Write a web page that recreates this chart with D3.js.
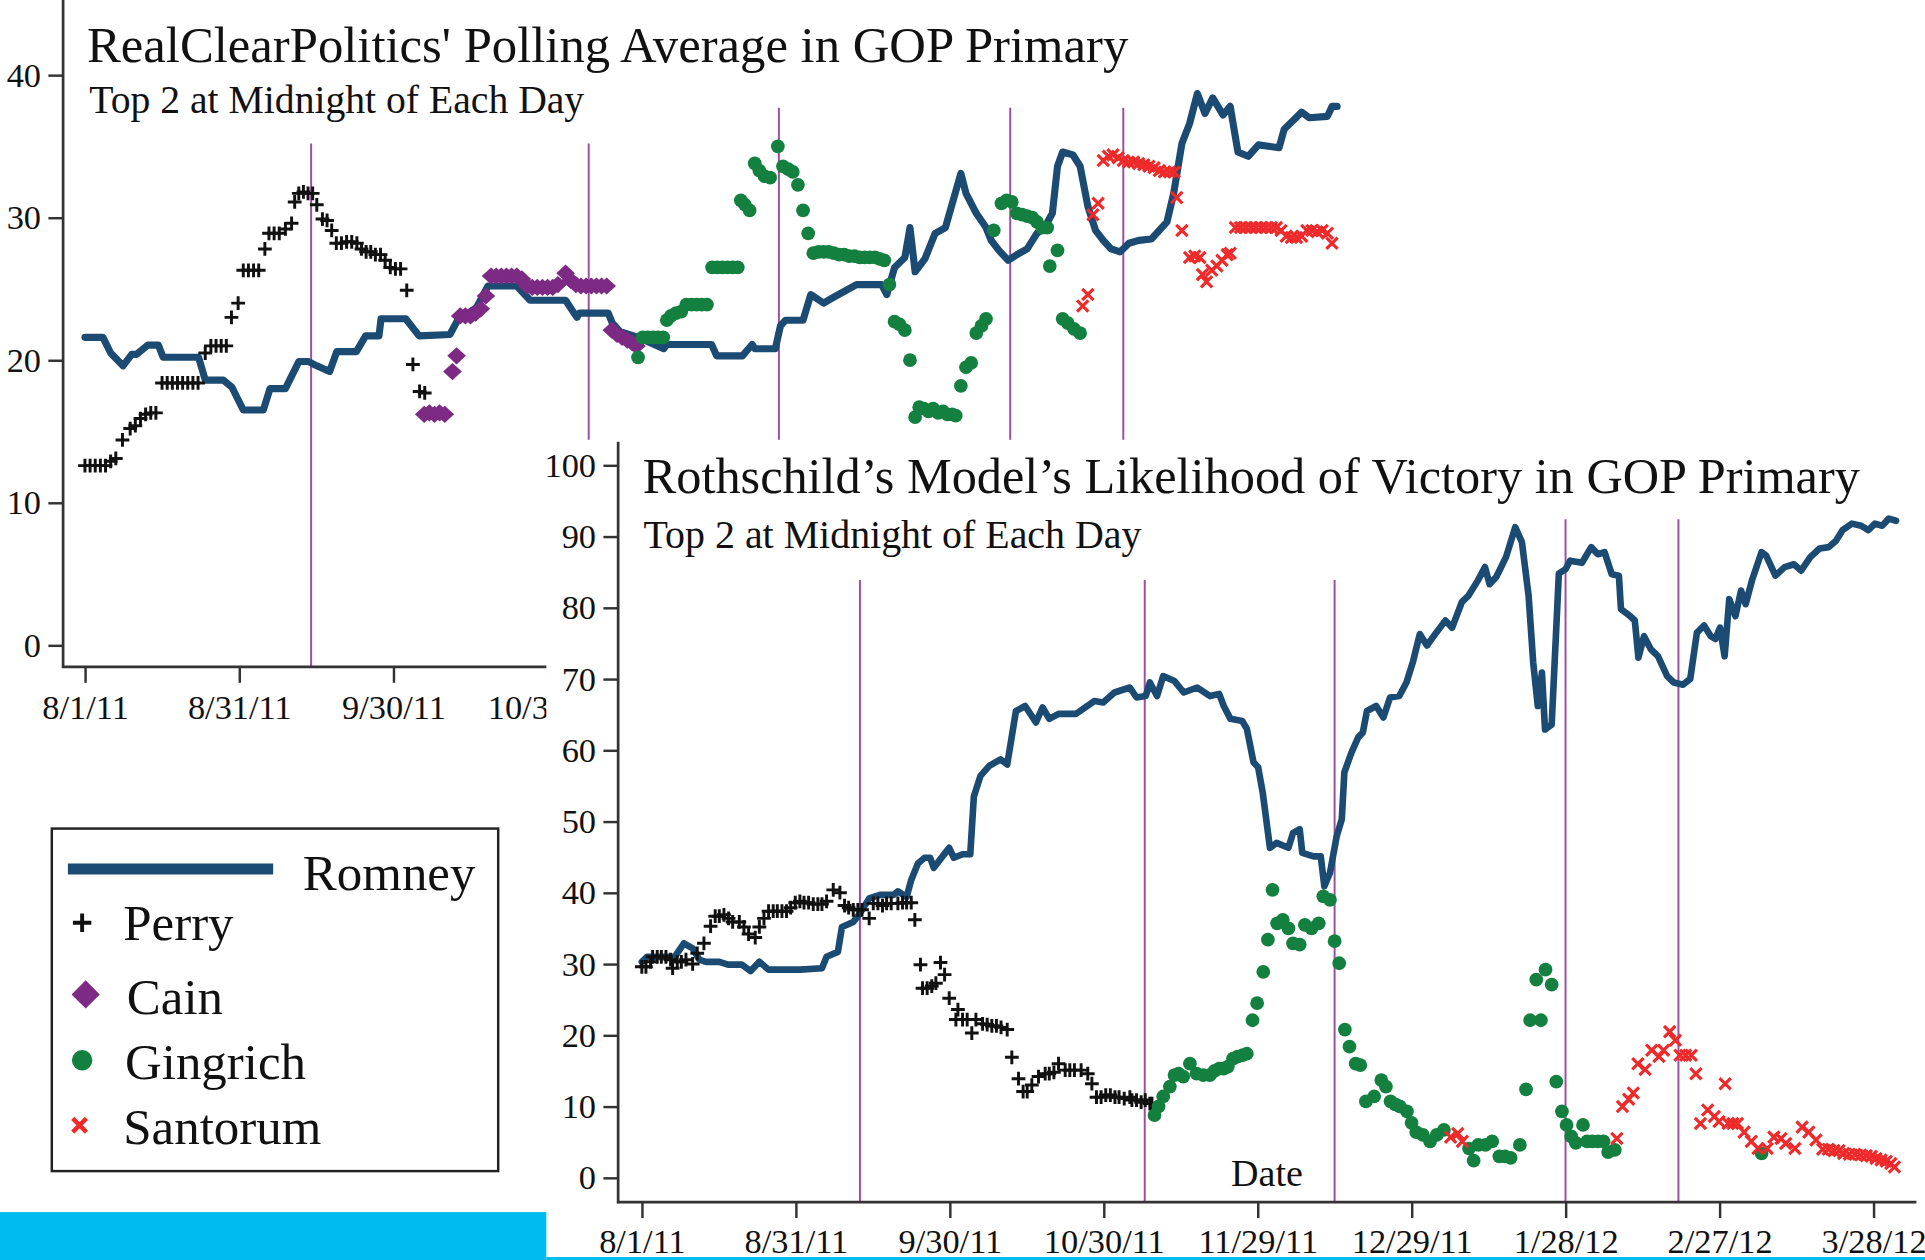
<!DOCTYPE html>
<html><head><meta charset="utf-8">
<script src="https://cdn.jsdelivr.net/npm/d3@7"></script>
<style>html,body{margin:0;padding:0;background:#fff;overflow:hidden}svg{display:block}</style>
</head><body>
<script>
// ---------------- DATA (day offsets from 8/1/11, values in %) ----------------
const xTickDays = [0,30,60,90,120,150,180,210,240];
const xTickLabels = ["8/1/11","8/31/11","9/30/11","10/30/11","11/29/11","12/29/11","1/28/12","2/27/12","3/28/12"];
const topYTicks = [0,10,20,30,40];
const botYTicks = [0,10,20,30,40,50,60,70,80,90,100];
const topEventDays = [44,98,135,180,202];
const topEventTops = [35.2,35.2,37.7,37.7,37.7];
const botEventDays = [42.5,98,135,180,202];
const botEventTops = [83.9,83.9,83.9,92.4,92.4];
const legendNames = ["Romney","Perry","Cain","Gingrich","Santorum"];
const topTitle = "RealClearPolitics' Polling Average in GOP Primary";
const botTitle = "Rothschild\u2019s Model\u2019s Likelihood of Victory in GOP Primary";
const subTitle = "Top 2 at Midnight of Each Day";

// RealClearPolitics polling average
const rcpRomney = [[0,21.6],[3.5,21.6],[5,20.5],[7.4,19.6],[9.1,20.4],[10,20.4],[12.2,21.05],[14.3,21.05],[15.2,20.2],[22.1,20.2],[23.4,18.6],[26.9,18.6],[28.6,18.1],[30.8,16.5],[34.7,16.5],[36,18.0],[39,18.0],[41.6,19.9],[43.5,19.9],[45.1,19.6],[47.6,19.2],[49,20.6],[52.8,20.6],[54.6,21.7],[57.2,21.7],[57.6,22.9],[62.4,22.9],[65,21.7],[71,21.8],[72.8,23.0],[75,23.4],[76.2,23.7],[78.4,25.2],[84,25.2],[86.6,24.2],[93.5,24.2],[95.7,23.0],[96.2,23.3],[101.8,23.3],[102.6,22.6],[104.1,22.0],[107.6,21.6],[112.6,20.8],[113.2,21.1],[121.9,21.1],[122.9,20.3],[127.9,20.3],[129.8,21.1],[130.3,20.8],[134.3,20.8],[135.3,22.4],[136.3,22.8],[139.7,22.8],[141.2,24.6],[143.7,24.0],[145.6,24.4],[150.1,25.3],[155,25.3],[156,24.6],[157.5,26.5],[159.5,27.2],[160.5,29.3],[161.5,26.2],[163.4,27.1],[165.4,28.9],[167.4,29.3],[170.4,33.1],[171.4,31.7],[173.4,30.3],[175.3,29.3],[176.3,28.4],[177.8,27.7],[179.6,27.0],[181.3,27.4],[183.3,27.8],[185.2,28.9],[186.7,29.3],[188.2,30.3],[189.2,33.6],[190.2,34.6],[192.2,34.4],[193.6,33.6],[195.1,30.8],[196.6,29.1],[198.1,28.4],[199.6,27.8],[201.4,27.6],[203.1,28.2],[205,28.4],[207.5,28.5],[209,29.1],[210.5,29.7],[211.8,31.7],[213.4,35.2],[214.9,36.6],[216.4,38.7],[217.9,37.3],[219.4,38.4],[221.4,37.2],[222.8,37.8],[224.3,34.6],[226.3,34.3],[228.3,35.1],[232.3,34.9],[233.3,36.2],[236.7,37.4],[238.2,37.0],[241.7,37.1],[242.6,37.8],[243.6,37.8]];
const rcpPerry = [[0,12.6],[1,12.6],[2,12.6],[3,12.6],[4,12.6],[5,12.9],[6,13.1],[7.3,14.4],[8.8,15.2],[9.8,15.4],[10.8,15.9],[11.8,16.2],[12.8,16.3],[13.8,16.3],[15,18.4],[16,18.4],[17,18.4],[18,18.4],[19,18.4],[20,18.4],[21,18.4],[22,18.4],[23.4,20.5],[24.5,21.0],[25.5,21.0],[26.5,21.0],[27.5,21.0],[28.5,23.0],[29.8,24.0],[30.8,26.3],[31.8,26.3],[32.8,26.3],[33.8,26.3],[35,27.8],[35.8,28.9],[36.8,28.9],[37.8,28.9],[39,29.2],[40.2,29.6],[40.8,31.1],[41.6,31.7],[42.5,31.8],[43.4,31.7],[44.3,31.7],[45.1,30.9],[46.2,29.9],[47.1,29.8],[48,29.1],[48.9,28.2],[49.9,28.2],[50.9,28.3],[51.9,28.3],[52.9,28.2],[53.8,27.8],[54.7,27.6],[55.6,27.6],[56.5,27.4],[57.5,27.4],[58.4,27.0],[59.4,26.5],[60.4,26.4],[61.4,26.4],[62.6,24.9],[63.8,19.7],[65.1,17.8],[66.1,17.7]];
const rcpCain = [[66,16.2],[67,16.3],[68,16.2],[69,16.3],[70,16.2],[71.5,19.2],[72.3,20.3],[73,23.1],[74,23.1],[75,23.1],[76,23.3],[77,23.6],[78,24.5],[79,25.9],[80,25.9],[81,25.9],[82,25.9],[83,25.9],[84,25.9],[85,25.7],[86,25.2],[87,25.1],[88,25.1],[89,25.1],[90,25.1],[91,25.1],[92,25.3],[93.5,26.1],[94.5,25.6],[95.5,25.3],[96.5,25.2],[97.5,25.2],[98.5,25.2],[99.5,25.2],[100.5,25.2],[101.5,25.2],[102.5,22.1],[103.5,21.8],[104.5,21.6],[105.5,21.4],[106.5,21.2],[107.3,21.0]];
const rcpGingrich = [[107.6,20.2],[108.5,21.6],[109.5,21.6],[110.5,21.6],[111.5,21.6],[112.5,21.6],[113.2,22.8],[114,23.1],[115,23.3],[116,23.4],[117,23.9],[118,23.9],[119,23.9],[120,23.9],[121,23.9],[122,26.5],[123,26.5],[124,26.5],[125,26.5],[126,26.5],[127,26.5],[127.6,31.2],[128.4,30.9],[129.3,30.5],[130.3,33.8],[131.2,33.3],[132.2,32.9],[133.3,32.8],[134.8,35.0],[135.8,33.6],[136.8,33.4],[137.7,33.2],[138.7,32.3],[139.7,30.5],[140.7,28.9],[141.7,27.5],[142.7,27.6],[143.7,27.6],[144.7,27.6],[145.7,27.5],[146.7,27.4],[147.7,27.4],[148.7,27.3],[149.7,27.3],[150.7,27.2],[151.7,27.2],[152.7,27.2],[153.7,27.2],[154.6,27.1],[155.5,27.0],[156.5,25.3],[157.5,22.7],[158.5,22.5],[159.5,22.1],[160.5,20.0],[161.5,16.0],[162.3,16.7],[163.2,16.6],[164.1,16.4],[165,16.6],[166,16.3],[166.9,16.4],[167.8,16.2],[168.7,16.2],[169.4,16.1],[170.4,18.2],[171.4,19.5],[172.4,19.8],[173.4,21.9],[174.4,22.4],[175.3,22.9],[176.8,29.1],[178.3,31.0],[179.3,31.2],[180.3,31.1],[181.3,30.3],[182.3,30.2],[183.3,30.1],[184.3,30.0],[185.2,29.7],[186.2,29.3],[187.2,29.3],[187.7,26.6],[189.2,27.7],[190.2,22.9],[191.2,22.6],[192.4,22.2],[193.6,21.9]];
const rcpSantorum = [[194.1,23.8],[195.1,24.6],[196.1,30.2],[197.1,31.0],[198.1,34.0],[199.1,34.3],[200,34.4],[201,34.2],[202,34.0],[203,33.9],[204,33.9],[205,33.8],[206,33.7],[207,33.6],[208,33.5],[209,33.3],[210,33.2],[211,33.2],[211.9,33.2],[212.4,31.4],[213.4,29.1],[214.9,27.2],[215.9,27.3],[216.9,27.2],[217.4,26.0],[218.2,25.5],[219.2,26.3],[220.2,26.6],[221.2,27.0],[222.2,27.4],[222.8,27.5],[223.8,29.3],[224.8,29.3],[225.8,29.3],[226.8,29.3],[227.8,29.3],[228.8,29.3],[229.8,29.3],[230.8,29.3],[231.8,29.3],[232.7,29.1],[233.7,28.7],[234.7,28.6],[235.7,28.6],[236.7,28.7],[237.7,29.1],[238.7,29.1],[239.7,29.0],[240.7,29.1],[241.7,28.9],[242.6,28.2]];

// Rothschild model likelihood of victory
const modRomney = [[0,30.3],[1,31.0],[6.4,31.0],[8.2,32.9],[9.9,32.2],[11.2,30.6],[12.5,30.3],[15.1,30.3],[16.8,29.9],[19.5,29.9],[21.2,29.0],[22.9,30.3],[24.7,29.2],[29,29.2],[30.8,29.2],[35.1,29.4],[36,31.0],[38.2,31.7],[39,35.2],[41.2,35.9],[42.5,37.1],[44.3,39.2],[46.4,39.7],[49.1,39.7],[49.9,40.2],[51.6,39.4],[52.5,41.8],[53.8,44.1],[55.1,44.9],[56.2,44.9],[56.9,43.5],[58.6,45.1],[59.9,46.3],[60.8,44.9],[62.5,45.4],[64,45.4],[64.7,53.5],[66,56.4],[67.7,57.8],[69.9,58.7],[71.2,58.0],[72.9,65.5],[74.7,66.2],[76.8,63.9],[78.1,66.0],[79.4,64.4],[81.2,65.1],[84.6,65.1],[88.2,66.9],[89.9,66.7],[92.1,68.1],[95.1,68.8],[96.4,67.4],[98.2,67.6],[99,69.5],[100.4,67.6],[101.6,70.4],[103.8,69.7],[105.6,68.1],[108.2,68.8],[110.7,67.6],[112.5,67.9],[113.4,66.2],[114.7,64.4],[117,64.1],[117.9,63.0],[119.2,58.3],[120.1,57.6],[121,54.0],[122.4,46.3],[123.7,47.0],[126,46.3],[126.9,48.4],[128.2,48.9],[128.7,45.6],[130.9,45.1],[132.3,45.1],[133,40.9],[134.1,42.8],[135.4,47.9],[136.4,50.3],[136.9,56.9],[138.3,59.7],[139.6,61.8],[140.5,62.5],[141.3,65.5],[143.1,66.2],[144.5,64.6],[145.8,67.4],[147.6,67.6],[149,69.5],[150.3,72.5],[151.6,76.3],[153,74.7],[154.8,76.5],[156.6,78.2],[157.9,77.2],[159.8,80.8],[161.1,81.7],[162.9,83.8],[164.3,85.7],[165.2,83.3],[166.5,84.3],[168.4,87.1],[170.2,91.3],[171.5,89.2],[172.8,81.7],[173.7,72.3],[174.6,66.2],[175.4,70.9],[176,62.9],[177.3,63.6],[178.7,84.8],[180,85.4],[180.9,86.6],[183.2,86.3],[185,88.5],[186.3,87.5],[187.6,87.8],[189,84.7],[190.4,84.5],[190.8,79.8],[192.6,78.8],[193.5,78.2],[194.2,73.0],[195.3,76.0],[196.6,74.2],[198,73.2],[199.8,70.4],[201.1,69.5],[202.9,69.2],[204.3,70.0],[205.6,76.5],[207,77.5],[208.3,76.0],[209.2,75.6],[210.1,77.2],[211,73.2],[211.9,81.2],[213.1,78.8],[214.2,82.4],[215.1,80.5],[216.4,84.0],[218.2,87.8],[219.1,87.3],[220.9,84.5],[222.7,85.7],[224.5,86.1],[225.9,85.2],[227.7,87.1],[229.5,88.3],[231.3,88.5],[232.7,89.4],[234,90.9],[235.8,91.8],[237.6,91.5],[239,90.9],[240.3,91.8],[241.7,91.5],[243,92.5],[244.4,92.2]];
const modPerry = [[0,29.6],[0.8,29.6],[1.7,30.3],[2.1,31.0],[3,31.0],[3.8,31.0],[4.7,31.0],[5.6,30.6],[6,29.4],[6.9,30.3],[7.7,30.3],[8.6,30.6],[9.9,30.0],[10.8,31.5],[12.1,32.9],[13.4,35.3],[14.3,36.7],[15.1,36.7],[16,36.9],[16.9,36.4],[17.7,35.9],[19,35.9],[19.9,35.2],[20.8,34.2],[22.1,33.7],[22.9,35.2],[23.8,36.4],[24.7,37.4],[25.6,37.4],[26.4,37.4],[27.3,37.4],[28.2,37.4],[29,37.9],[29.9,38.6],[30.8,38.8],[31.6,38.6],[32.5,38.6],[33.4,38.4],[34.3,38.4],[35.1,38.4],[36,38.8],[37.3,40.4],[38.6,40.0],[39.5,38.2],[40.3,37.9],[41.2,37.6],[42.1,37.6],[42.9,37.6],[44.3,36.4],[45.1,38.5],[46,38.5],[46.9,38.2],[47.7,38.5],[48.6,38.5],[49.9,38.5],[50.8,38.6],[51.6,38.6],[52.5,38.6],[53.2,36.2],[54.3,29.9],[54.7,26.6],[55.6,26.6],[56.5,26.9],[57.3,27.3],[58.2,30.2],[59,28.5],[59.9,25.2],[61.2,22.2],[61.6,23.6],[62.5,22.2],[63.4,22.2],[64.3,20.3],[65.1,22.2],[66.4,21.6],[67.3,21.5],[68.2,21.3],[69.1,21.3],[70,21.1],[71.2,20.8],[72.1,16.9],[73.4,13.9],[74.3,12.1],[75.1,12.1],[76,13.0],[77.3,14.2],[78.6,14.6],[79.4,14.6],[80.3,14.8],[81.2,16.0],[82.5,15.1],[83.4,15.1],[84.3,15.1],[85.6,15.1],[86.9,14.6],[87.7,13.2],[88.6,11.3],[89.5,11.3],[90.4,11.6],[91.3,11.6],[92.2,11.3],[93,11.3],[94,11.1],[95.1,11.3],[95.5,10.9],[96.4,10.9],[97.3,10.6],[98.1,10.9],[99,10.4],[99.4,10.4]];
const modGingrich = [[99.9,8.8],[100.7,10.0],[101.6,11.4],[102.9,12.8],[103.8,14.4],[104.6,14.6],[105.5,14.2],[106.8,16.0],[108.1,14.6],[109.4,14.4],[110.7,14.4],[111.6,15.0],[112.5,15.3],[113.4,15.3],[114.2,15.6],[115.2,16.7],[116.1,17.0],[117.1,17.2],[117.9,17.4],[119,22.1],[119.9,24.5],[121.1,28.9],[122,33.4],[122.9,40.4],[123.8,35.7],[124.9,36.2],[126,35.0],[126.9,32.9],[128.2,32.7],[129.2,35.5],[130.5,35.0],[131.9,35.7],[132.8,39.5],[134.1,39.0],[135,33.2],[135.9,30.1],[137,20.8],[137.9,18.4],[139.1,16.0],[140,15.8],[141.1,10.7],[142.7,11.4],[144.1,13.7],[145,12.8],[145.9,10.7],[146.8,10.3],[147.7,10.0],[149.1,9.3],[150,7.7],[150.9,6.4],[152.2,6.0],[153.6,5.1],[154.9,6.0],[156.3,6.7],[161.2,4.1],[162.1,2.4],[163,4.6],[164.4,4.6],[165.7,5.1],[167.1,3.0],[168.2,3.0],[169.3,2.8],[171.1,4.6],[172.3,12.4],[173.1,22.1],[174.3,27.8],[175.2,22.1],[176.1,29.2],[177.3,27.1],[178.2,13.5],[179.3,9.3],[180.2,7.4],[181.1,5.8],[182,4.9],[183.4,7.4],[184.2,5.1],[185.2,5.1],[186.3,5.1],[187.4,5.1],[188.3,3.6],[189.6,3.9],[218.2,3.4]];
const modSantorum = [[157.6,5.7],[159,6.2],[159.9,5.1],[190,5.5],[191.1,10.0],[192.3,11.0],[193.2,11.9],[194.1,16.0],[195.5,15.2],[196.8,17.9],[198.2,17.0],[199.1,17.9],[200.3,20.5],[201.4,19.3],[202.3,17.2],[203.4,17.2],[204.5,17.2],[205.4,14.6],[206.3,7.6],[207.7,9.5],[209,8.6],[209.9,7.9],[211.1,13.2],[211.7,7.6],[212.6,7.6],[213.5,7.6],[214.8,6.4],[216.2,5.1],[217.5,4.1],[219.3,4.1],[220.6,5.7],[222,5.5],[222.9,4.8],[224.7,4.1],[226.1,7.1],[227.4,6.4],[228.8,5.3],[230.1,4.0],[231.2,4.0],[232.3,3.8],[233.3,3.8],[234.2,3.4],[235.3,3.3],[236.4,3.3],[237.5,3.2],[238.6,3.1],[239.6,3.0],[240.5,2.7],[241.5,2.5],[242.5,2.3],[243.4,2.0],[244.1,1.5]];

// ---------------- STYLE ----------------
const FONT = '"Liberation Serif","Times New Roman",Times,serif';
const C = {romney:"#1b4a72", perry:"#111111", cain:"#7d2a84", gingrich:"#13803f", santorum:"#ee2a2a", event:"#9b4f9f", axis:"#333333", text:"#111111", cyan:"#00bbef"};

const svg = d3.select("body").append("svg")
  .attr("width",1925).attr("height",1260)
  .attr("viewBox","0 0 1568 1026").attr("preserveAspectRatio","none")
  .style("font-family",FONT);
svg.append("rect").attr("width",1568).attr("height",1026).attr("fill","#fff");
// top panel is overlapped by the bottom panel: clip it to an L-shaped area
svg.append("defs").append("clipPath").attr("id","topClip")
  .append("path").attr("d","M0,0H1568V358H445V1026H0Z");

const plusPath = s => `M${-s},0H${s}M0,${-s}V${s}`;
const crossPath = s => `M${-s},${-s}L${s},${s}M${-s},${s}L${s},${-s}`;
const diamondPath = (w,h) => `M0,${-h}L${w},0L0,${h}L${-w},0Z`;

function drawPanel(g, o) {
  const {x, y, xAxisY, yAxisX, yAxisTop, xAxisRight, events, eventTops, romney, series, yTicks, lineW, tickPad} = o;
  g.append("g").selectAll("line").data(events).join("line")
    .attr("x1", d=>x(d)).attr("x2", d=>x(d))
    .attr("y1", (d,i)=>y(eventTops[i])).attr("y2", xAxisY)
    .attr("stroke", C.event).attr("stroke-width", 1.6);
  const ya = d3.axisLeft(y).tickValues(yTicks).tickSize(12).tickPadding(6).tickSizeOuter(0);
  const yg = g.append("g").attr("transform",`translate(${yAxisX},0)`).call(ya);
  yg.select(".domain").remove();
  const xa = d3.axisBottom(x).tickValues(xTickDays).tickFormat((d,i)=>xTickLabels[i]).tickSize(13).tickPadding(tickPad).tickSizeOuter(0);
  const xg = g.append("g").attr("transform",`translate(0,${xAxisY})`).call(xa);
  xg.select(".domain").remove();
  [yg, xg].forEach(a => {
    a.selectAll(".tick line").attr("stroke", C.axis).attr("stroke-width", 2);
    a.selectAll(".tick text").attr("fill", C.text).style("font-size","28px").style("font-family",FONT);
  });
  g.append("line").attr("x1",yAxisX).attr("x2",yAxisX).attr("y1",yAxisTop).attr("y2",xAxisY+1)
    .attr("stroke",C.axis).attr("stroke-width",2.2);
  g.append("line").attr("x1",yAxisX-1).attr("x2",xAxisRight).attr("y1",xAxisY).attr("y2",xAxisY)
    .attr("stroke",C.axis).attr("stroke-width",2.2);
  g.append("path").datum(romney)
    .attr("d", d3.line().x(d=>x(d[0])).y(d=>y(d[1])))
    .attr("fill","none").attr("stroke",C.romney).attr("stroke-width",lineW)
    .attr("stroke-linejoin","round").attr("stroke-linecap","round");
  const tr = d => `translate(${x(d[0])},${y(d[1])})`;
  if (series.perry) g.append("g").selectAll("path").data(series.perry).join("path")
    .attr("transform",tr).attr("d",plusPath(5.6)).attr("stroke",C.perry).attr("stroke-width",2.4).attr("fill","none");
  if (series.cain) g.append("g").selectAll("path").data(series.cain).join("path")
    .attr("transform",tr).attr("d",diamondPath(7.6,7)).attr("fill",C.cain);
  if (series.gingrich) g.append("g").selectAll("circle").data(series.gingrich).join("circle")
    .attr("cx",d=>x(d[0])).attr("cy",d=>y(d[1])).attr("r",5.6).attr("fill",C.gingrich);
  if (series.santorum) g.append("g").selectAll("path").data(series.santorum).join("path")
    .attr("transform",tr).attr("d",crossPath(4.6)).attr("stroke",C.santorum).attr("stroke-width",2.6).attr("fill","none");
}

// ---------------- TOP PANEL ----------------
const topX = d3.scaleLinear().domain([0,240]).range([69.2, 69.2+240*4.187]);
const topY = d3.scaleLinear().domain([0,40]).range([525.4, 61.1]);
const gTop = svg.append("g").attr("clip-path","url(#topClip)");
drawPanel(gTop, {x:topX, y:topY, xAxisY:543, yAxisX:51.4, yAxisTop:0, xAxisRight:1110,
  events:topEventDays, eventTops:topEventTops, romney:rcpRomney,
  series:{perry:rcpPerry, cain:rcpCain, gingrich:rcpGingrich, santorum:rcpSantorum},
  yTicks:topYTicks, lineW:5.8, tickPad:10});
gTop.append("text").attr("x",70.9).attr("y",50.2).text(topTitle)
  .attr("fill",C.text).style("font-size","41.3px");
gTop.append("text").attr("x",72.7).attr("y",92.3).text(subTitle)
  .attr("fill",C.text).style("font-size","32.3px");

// ---------------- BOTTOM PANEL ----------------
const botX = d3.scaleLinear().domain([0,240]).range([522.8, 522.8+240*4.18]);
const botY = d3.scaleLinear().domain([0,100]).range([959, 378.8]);
const gBot = svg.append("g");
drawPanel(gBot, {x:botX, y:botY, xAxisY:978.8, yAxisX:503.5, yAxisTop:359.8, xAxisRight:1561,
  events:botEventDays, eventTops:botEventTops, romney:modRomney,
  series:{perry:modPerry, gingrich:modGingrich, santorum:modSantorum},
  yTicks:botYTicks, lineW:5.4, tickPad:8.5});
gBot.append("text").attr("x",523.5).attr("y",401.8).text(botTitle)
  .attr("fill",C.text).style("font-size","41px");
gBot.append("text").attr("x",524.2).attr("y",446.6).text(subTitle)
  .attr("fill",C.text).style("font-size","32.5px");
gBot.append("text").attr("x",1032).attr("y",966).attr("text-anchor","middle").text("Date")
  .attr("fill",C.text).style("font-size","31px");

// ---------------- LEGEND ----------------
const lg = svg.append("g");
lg.append("rect").attr("x",42.2).attr("y",674.7).attr("width",363.6).attr("height",278.9)
  .attr("fill","#fff").attr("stroke","#222").attr("stroke-width",2);
lg.append("line").attr("x1",55.3).attr("x2",222.5).attr("y1",707.6).attr("y2",707.6)
  .attr("stroke",C.romney).attr("stroke-width",8.8);
lg.append("path").attr("transform","translate(66.9,751.4)").attr("d",plusPath(7.5))
  .attr("stroke",C.perry).attr("stroke-width",3.2).attr("fill","none");
lg.append("path").attr("transform","translate(69.8,809.8)").attr("d",diamondPath(11.5,11.5)).attr("fill",C.cain);
lg.append("circle").attr("cx",66.9).attr("cy",863.4).attr("r",8.3).attr("fill",C.gingrich);
lg.append("path").attr("transform","translate(64.8,916.3)").attr("d",crossPath(5.6))
  .attr("stroke",C.santorum).attr("stroke-width",3.6).attr("fill","none");
const legPos = [[246.7,724.4],[100.4,765.1],[103.3,825.4],[101.8,878.3],[100.4,931.3]];
lg.selectAll("text").data(legendNames).join("text")
  .attr("x",(d,i)=>legPos[i][0]).attr("y",(d,i)=>legPos[i][1]).text(d=>d)
  .attr("fill",C.text).style("font-size","41.5px");

// ---------------- CYAN FOOTER ----------------
svg.append("rect").attr("x",0).attr("y",987).attr("width",445).attr("height",39).attr("fill",C.cyan);
svg.append("rect").attr("x",445).attr("y",1023.6).attr("width",1123).attr("height",2.6).attr("fill",C.cyan);
</script>
</body></html>
